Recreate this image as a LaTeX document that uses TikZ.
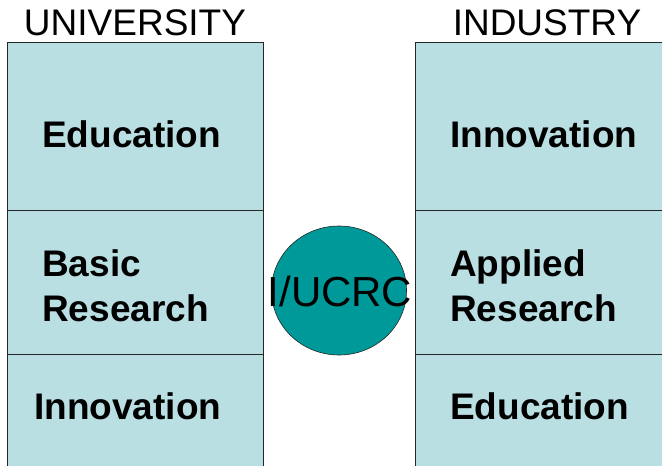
\documentclass[tikz,border=0pt]{standalone}
\usepackage{fontspec}
\setmainfont{Liberation Sans}
\definecolor{cellblue}{HTML}{BADFE3}
\definecolor{teal}{HTML}{009999}
\tikzset{
  cell/.style={draw=black!85, line width=0.8pt, fill=cellblue, inner sep=0pt, anchor=north west},
  lbl/.style={inner sep=0pt, anchor=base west, align=left, font=\fontsize{37}{44.3}\selectfont\bfseries},
  title/.style={inner sep=0pt, anchor=base, font=\fontsize{37}{40}\selectfont},
}
\begin{document}
\begin{tikzpicture}[x=1pt,y=-1pt]
\useasboundingbox (0,0) rectangle (662,466);
\clip (0,0) rectangle (662,466);
% university column
\node[cell, minimum width=256pt, minimum height=168pt] (u1) at (7,42) {};
\node[cell, minimum width=256pt, minimum height=144pt] (u2) at (7,210) {};
\node[cell, minimum width=256pt, minimum height=130pt] (u3) at (7,354) {};
% industry column
\node[cell, minimum width=270pt, minimum height=168pt] (i1) at (415,42) {};
\node[cell, minimum width=270pt, minimum height=144pt] (i2) at (415,210) {};
\node[cell, minimum width=270pt, minimum height=130pt] (i3) at (415,354) {};
% titles
\node[title] (tu) at (135,35.7) {UNIVERSITY};
\node[title] (ti) at (547,35.7) {INDUSTRY};
% labels
\node[lbl] (l1) at (42,147.7) {Education};
\node[lbl] (l2) at (42,321) {Basic\\Research};
\node[lbl] (l3) at (34,419.3) {Innovation};
\node[lbl] (r1) at (450,147.7) {Innovation};
\node[lbl] (r2) at (450,321) {Applied\\Research};
\node[lbl] (r3) at (450,419.3) {Education};
% center
\draw[fill=teal, draw=black!85, line width=0.6pt] (339,290.5) ellipse [x radius=67.5, y radius=64.5];
\node[inner sep=0pt, anchor=base, font=\fontsize{42}{46}\selectfont] (c) at (340,306.7) {I/UCRC};
\end{tikzpicture}
\end{document}
